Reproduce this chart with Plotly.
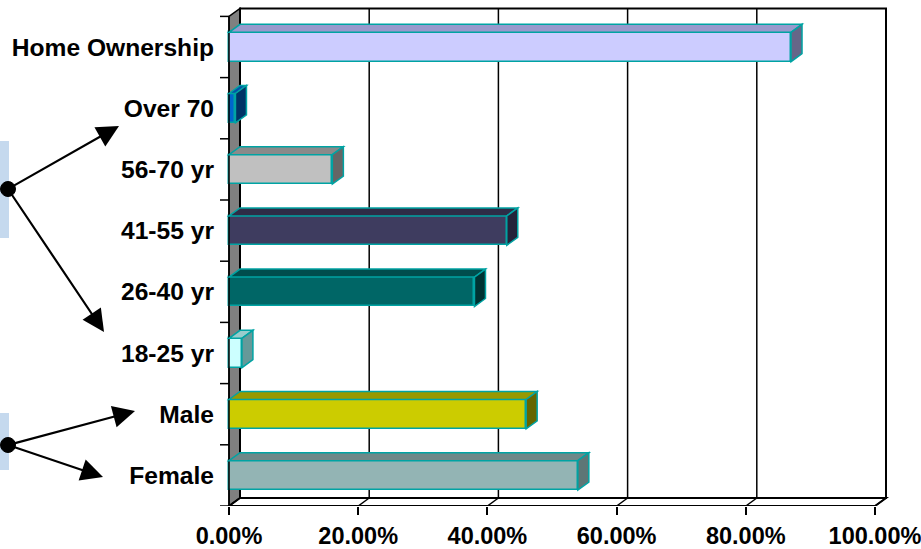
import plotly.graph_objects as go

# ---- data ----
categories = ["Female", "Male", "18-25 yr", "26-40 yr", "41-55 yr", "56-70 yr", "Over 70", "Home Ownership"]
values = [54, 46, 2, 38, 43, 16, 1, 87]  # percent
front_colors = ["#93B4B4", "#CCCC00", "#CCFFFF", "#006666", "#3E3C5F", "#C0C0C0", "#0066CC", "#CCCCFF"]
top_colors = ["#6E8888", "#999900", "#99CCCC", "#004D4D", "#2E2C46", "#8A8A8A", "#0055AA", "#9999CC"]
side_colors = ["#5E7676", "#666600", "#669999", "#003333", "#24233A", "#666666", "#003366", "#666688"]
x_tickvals = [0, 20, 40, 60, 80, 100]
x_ticktext = ["0.00%", "20.00%", "40.00%", "60.00%", "80.00%", "100.00%"]

# ---- layout geometry (pixels) ----
W, H = 921, 549
L, R, T, B = 219, 895, 5, 506
X0PX, X100PX = 229, 875
pxx = (X100PX - X0PX) / 100.0           # px per percent
cat_px = 61.2                           # px per category
xmin = -(X0PX - L) / pxx
xmax = 100 + (R - X100PX) / pxx
ymin = -0.5
ymax = -0.5 + (B - T) / cat_px
DX = 11 / pxx                            # depth offset in x data units
DY = 8 / cat_px                          # depth offset in y data units
BW = 0.48                                # bar thickness
OUT = "#00A3A3"

ypos = list(range(len(categories)))
ytop = len(categories) - 0.5

def px_x(x):
    return (x - L) / (R - L)

def px_y(y):
    return (B - y) / (B - T)

fig = go.Figure()
fig.add_trace(go.Bar(
    x=values, y=ypos, orientation="h", width=BW,
    marker=dict(color=front_colors, line=dict(color=OUT, width=1.5)),
    hoverinfo="skip", showlegend=False,
))

shapes = []
# left wall
shapes.append(dict(type="path", xref="x", yref="y", layer="below",
                   path=f"M0,{ymin} L{DX},{ymin+DY} L{DX},{ytop+DY} L0,{ytop} Z",
                   fillcolor="#808080", line=dict(color="black", width=1.5)))
# back wall
shapes.append(dict(type="rect", xref="x", yref="y", layer="below",
                   x0=DX, x1=100 + DX, y0=ymin + DY, y1=ytop + DY,
                   fillcolor="white", line=dict(color="black", width=2)))
# back gridlines
for v in x_tickvals[1:-1]:
    shapes.append(dict(type="line", xref="x", yref="y", layer="below",
                       x0=v + DX, x1=v + DX, y0=ymin + DY, y1=ytop + DY,
                       line=dict(color="black", width=1.5)))
# floor
shapes.append(dict(type="path", xref="x", yref="y", layer="below",
                   path=f"M0,{ymin} L100,{ymin} L{100+DX},{ymin+DY} L{DX},{ymin+DY} Z",
                   fillcolor="white", line=dict(color="black", width=2)))
for v in x_tickvals:
    shapes.append(dict(type="line", xref="x", yref="y", layer="below",
                       x0=v, x1=v + DX, y0=ymin, y1=ymin + DY,
                       line=dict(color="black", width=1.5)))
# y axis line and tick marks at category boundaries
shapes.append(dict(type="line", xref="x", yref="y", layer="above",
                   x0=0, x1=0, y0=ymin, y1=ytop, line=dict(color="black", width=1.5)))
for k in range(len(categories) + 1):
    yb = k - 0.5
    shapes.append(dict(type="line", xref="x", yref="y", layer="above",
                       x0=-9 / pxx, x1=0, y0=yb, y1=yb, line=dict(color="black", width=1.5)))

# bar top and side faces
for yc, v, tc, sc in zip(ypos, values, top_colors, side_colors):
    y0, y1 = yc - BW / 2, yc + BW / 2
    shapes.append(dict(type="path", xref="x", yref="y", layer="above",
                       path=f"M0,{y1} L{DX},{y1+DY} L{v+DX},{y1+DY} L{v},{y1} Z",
                       fillcolor=tc, line=dict(color=OUT, width=1.5)))
    shapes.append(dict(type="path", xref="x", yref="y", layer="above",
                       path=f"M{v},{y0} L{v},{y1} L{v+DX},{y1+DY} L{v+DX},{y0+DY} Z",
                       fillcolor=sc, line=dict(color=OUT, width=1.5)))

# left decorations: light blue tabs and dots
for (ya, yb) in [(141, 238), (413, 470)]:
    shapes.append(dict(type="rect", xref="paper", yref="paper", layer="below",
                       x0=px_x(0), x1=px_x(9), y0=px_y(yb), y1=px_y(ya),
                       fillcolor="#C5D9EE", line=dict(width=0)))

annotations = []
groups = [((8, 189), [(119, 126), (104, 332)]), ((8, 445), [(135, 411), (103, 477)])]
for (cx, cy), tips in groups:
    for (tx, ty) in tips:
        annotations.append(dict(x=px_x(tx), y=px_y(ty), xref="paper", yref="paper",
                                ax=cx - tx, ay=cy - ty, text="", showarrow=True,
                                arrowhead=2, arrowsize=2.0, arrowwidth=2.2, arrowcolor="black"))
for (cx, cy), tips in groups:
    shapes.append(dict(type="circle", xref="paper", yref="paper", layer="above",
                       x0=px_x(cx - 7.5), x1=px_x(cx + 7.5), y0=px_y(cy + 7.5), y1=px_y(cy - 7.5),
                       fillcolor="black", line=dict(color="black", width=1)))

xfont = dict(family="Liberation Sans, Arial, sans-serif", size=23.5, color="black", weight="bold")
yfont = dict(family="Liberation Sans, Arial, sans-serif", size=24.6, color="black", weight="bold")

fig.update_layout(
    width=W, height=H,
    margin=dict(l=L, r=W - R, t=T, b=H - B, pad=0, autoexpand=False),
    paper_bgcolor="white", plot_bgcolor="white",
    bargap=0, showlegend=False,
    shapes=shapes, annotations=annotations,
    xaxis=dict(range=[xmin, xmax], tickvals=x_tickvals, ticktext=x_ticktext,
               showgrid=False, zeroline=False, showline=False,
               ticks="outside", ticklen=8, tickwidth=1.5, tickcolor="black",
               tickfont=xfont, ticklabelstandoff=1, ticklabeloverflow="allow",
               automargin=False, fixedrange=True),
    yaxis=dict(range=[ymin, ymax], tickvals=ypos, ticktext=categories,
               showgrid=False, zeroline=False, showline=False, ticks="",
               ticklabelstandoff=4, tickfont=yfont, automargin=False, fixedrange=True),
)

fig.write_html("out.html")
